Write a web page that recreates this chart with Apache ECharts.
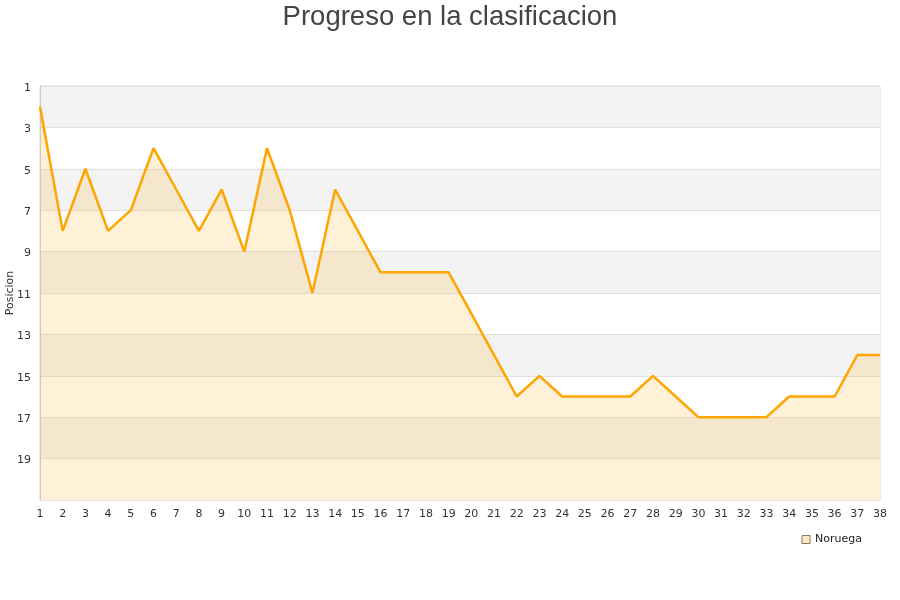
<!DOCTYPE html>
<html><head><meta charset="utf-8">
<script src="https://cdn.jsdelivr.net/npm/echarts@6/dist/echarts.min.js"></script>
<style>html,body{margin:0;padding:0;background:#fff}#c{width:900px;height:600px}</style>
</head><body><div id="c"></div>
<script>
const jornadas = [1,2,3,4,5,6,7,8,9,10,11,12,13,14,15,16,17,18,19,20,21,22,23,24,25,26,27,28,29,30,31,32,33,34,35,36,37,38];
const posiciones = [2,8,5,8,7,4,6,8,6,9,4,7,11,6,8,10,10,10,10,12,14,16,15,16,16,16,16,15,16,17,17,17,17,16,16,16,14,14];
const serieNombre = 'Noruega';
const titulo = 'Progreso en la clasificacion';

const chart = echarts.init(document.getElementById('c'));
chart.setOption({
  animation: false,
  backgroundColor: '#fff',
  title: { text: titulo, left: 'center', top: -2, textStyle: { fontFamily: 'Liberation Sans, Arial, sans-serif', fontSize: 27.5, fontWeight: 'normal', color: '#444' } },
  legend: { right: 33, top: 529, itemWidth: 8, itemHeight: 8, icon: 'rect',
    textStyle: { fontFamily: 'DejaVu Sans', fontSize: 11, color: '#222' },
    data: [{ name: serieNombre, itemStyle: { color: '#fde9c4', borderColor: '#8a7a60', borderWidth: 1 } }] },
  grid: { left: 40, right: 20, top: 86, bottom: 100, show: true, borderColor: '#dcdcdc', borderWidth: 1, outerBoundsMode: 'none', containLabel: false },
  xAxis: { type: 'value', min: 1, max: 38, interval: 1,
    axisLine: { show: false }, axisTick: { show: false }, splitLine: { show: false },
    axisLabel: { fontFamily: 'DejaVu Sans', fontSize: 11, color: '#333', margin: 9 } },
  yAxis: { type: 'value', inverse: true, min: 1, max: 21, interval: 2,
    name: 'Posicion', nameLocation: 'middle', nameRotate: 90, nameGap: 24, nameMoveOverlap: false,
    nameTextStyle: { fontFamily: 'DejaVu Sans', fontSize: 11, color: '#333' },
    axisLine: { show: true, lineStyle: { color: '#ccc' } }, axisTick: { show: false },
    axisLabel: { fontFamily: 'DejaVu Sans', fontSize: 11, color: '#333', margin: 9, showMaxLabel: false,
      formatter: v => '{a|' + v + '}', rich: { a: { fontFamily: 'DejaVu Sans', fontSize: 11, color: '#333', padding: [4, 0, 0, 0] } } },
    splitLine: { show: true, lineStyle: { color: '#e0e0e0' } },
    splitArea: { show: true, areaStyle: { color: ['#f3f3f3', '#ffffff'] } } },
  series: [{ name: serieNombre, type: 'line', data: jornadas.map((j, i) => [j, posiciones[i]]),
    symbol: 'none', lineStyle: { color: '#ffa500', width: 2.5 }, itemStyle: { color: '#ffa500' },
    areaStyle: { color: 'rgba(255,185,70,0.3)', origin: 'end' } }]
});
</script></body></html>
